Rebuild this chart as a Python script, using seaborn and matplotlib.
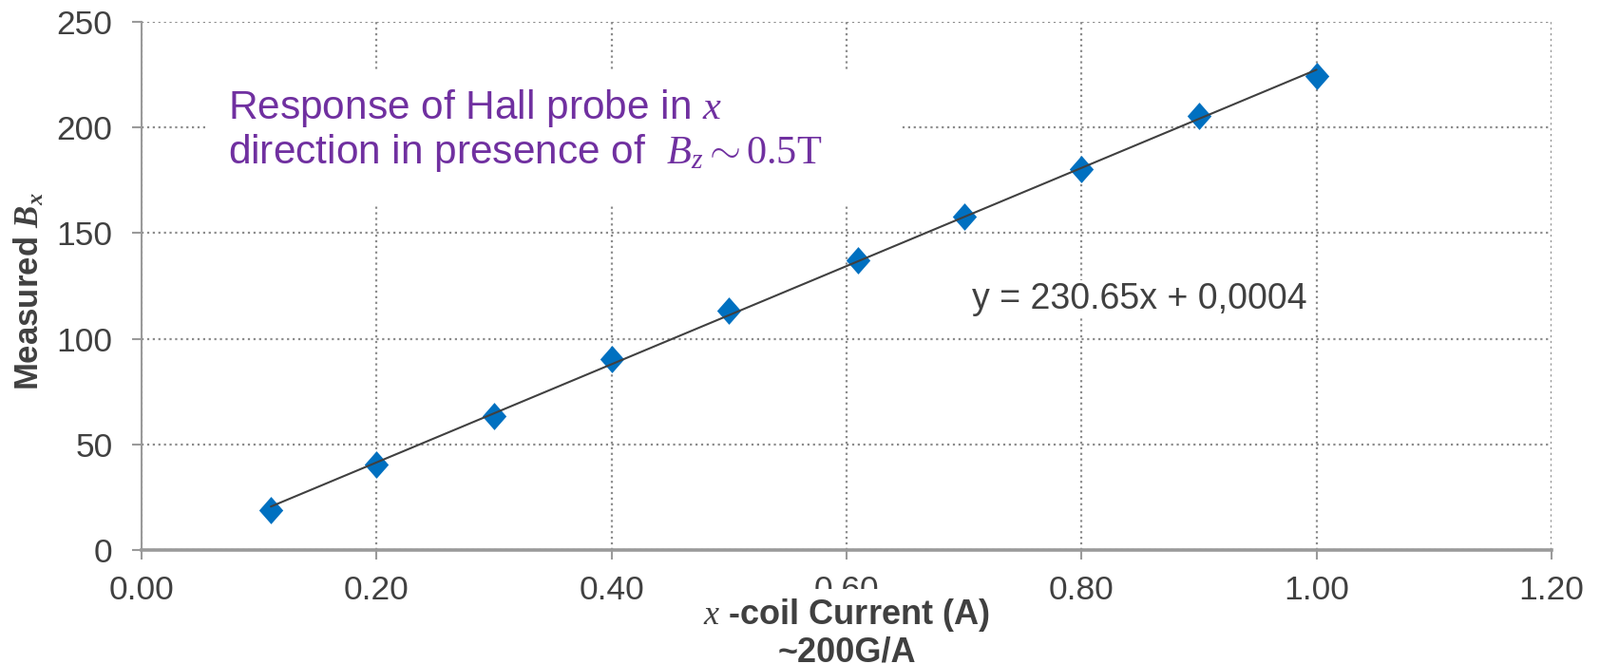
import numpy as np
import pandas as pd
import seaborn as sns
import matplotlib.pyplot as plt
from matplotlib.path import Path
from matplotlib.patches import Rectangle

# values
current = [0.11, 0.20, 0.30, 0.40, 0.50, 0.61, 0.70, 0.80, 0.90, 1.00]
bx = [19.0, 40.5, 63.5, 90.5, 113.5, 137.0, 158.0, 180.5, 205.5, 224.5]
xticks = [0.0, 0.2, 0.4, 0.6, 0.8, 1.0, 1.2]
yticks = [0, 50, 100, 150, 200, 250]
fit_label = "y = 230.65x + 0,0004"
note_line1 = r"Response of Hall probe in $\mathit{x}$"
note_line2 = r"direction in presence of  $B_z\mathrm{\sim 0.5T}$"

sns.set_style("ticks")
plt.rcParams['font.family'] = ['Liberation Sans', 'DejaVu Sans']
plt.rcParams['mathtext.fontset'] = 'custom'
plt.rcParams['mathtext.rm'] = 'Liberation Serif'
plt.rcParams['mathtext.it'] = 'Liberation Serif:italic'
plt.rcParams['mathtext.bf'] = 'Liberation Serif:bold'
plt.rcParams['mathtext.bfit'] = 'Liberation Serif:italic:bold'

df = pd.DataFrame({'Current': current, 'Bx': bx})

grey_txt = '#404040'
grey_ax = '#9a9a9a'

fig = plt.figure(figsize=(16.84, 6.99), dpi=100)
ax = fig.add_axes([0.0885, 0.1717, 0.8812, 0.7954])

# slightly tall diamond like the Excel marker
diamond = Path([(0, 1), (0.88, 0), (0, -1), (-0.88, 0), (0, 1)])
sns.regplot(data=df, x='Current', y='Bx', ax=ax, ci=None, marker=diamond,
            scatter_kws=dict(s=430, color='#0070C0', linewidths=0, alpha=1, zorder=3),
            line_kws=dict(color=grey_txt, lw=1.5, zorder=4))

ax.set_xlim(0, 1.2)
ax.set_ylim(0, 250)
ax.set_xticks(xticks)
ax.set_xticklabels([f"{t:.2f}" for t in xticks])
ax.set_yticks(yticks)

ax.grid(True, linestyle=':', color='#8c8c8c', lw=1.6)
ax.set_axisbelow(True)

sns.despine(ax=ax)
ax.spines['left'].set_color(grey_ax)
ax.spines['left'].set_linewidth(1.5)
ax.spines['bottom'].set_color(grey_ax)
ax.spines['bottom'].set_linewidth(2.6)
ax.tick_params(axis='both', direction='out', length=7, width=1.5, color=grey_ax,
               labelsize=25.5, labelcolor=grey_txt)
ax.tick_params(axis='x', pad=12)
ax.tick_params(axis='y', pad=15)

ax.set_ylabel(r"Measured $\mathbfit{B_x}$", fontsize=25, fontweight='bold', color=grey_txt)
ax.yaxis.set_label_coords(-0.068, 0.49)
ax.set_xlabel("$\\mathit{x}$ -coil Current (A)\n~200G/A", fontsize=26, fontweight='bold',
              color=grey_txt, linespacing=1.1,
              bbox=dict(facecolor='white', edgecolor='none', pad=4.5))
ax.xaxis.set_label_coords(0.5, -0.088)

# white text box behind the note, hides the grid like in the original
ax.add_patch(Rectangle((0.0465, 0.655), 0.4915, 0.255, transform=ax.transAxes,
                       facecolor='white', edgecolor='none', zorder=2))
ax.text(0.0613, 0.8165, note_line1, transform=ax.transAxes, fontsize=30.5,
        color='#7030A0', va='baseline', ha='left', zorder=5)
ax.text(0.0613, 0.732, note_line2, transform=ax.transAxes, fontsize=30.5,
        color='#7030A0', va='baseline', ha='left', zorder=5)

ax.text(0.589, 0.457, fit_label, transform=ax.transAxes, fontsize=27,
        color=grey_txt, va='baseline', ha='left', zorder=5,
        bbox=dict(facecolor='white', edgecolor='none', pad=1))

plt.savefig("out.png", dpi=100)
